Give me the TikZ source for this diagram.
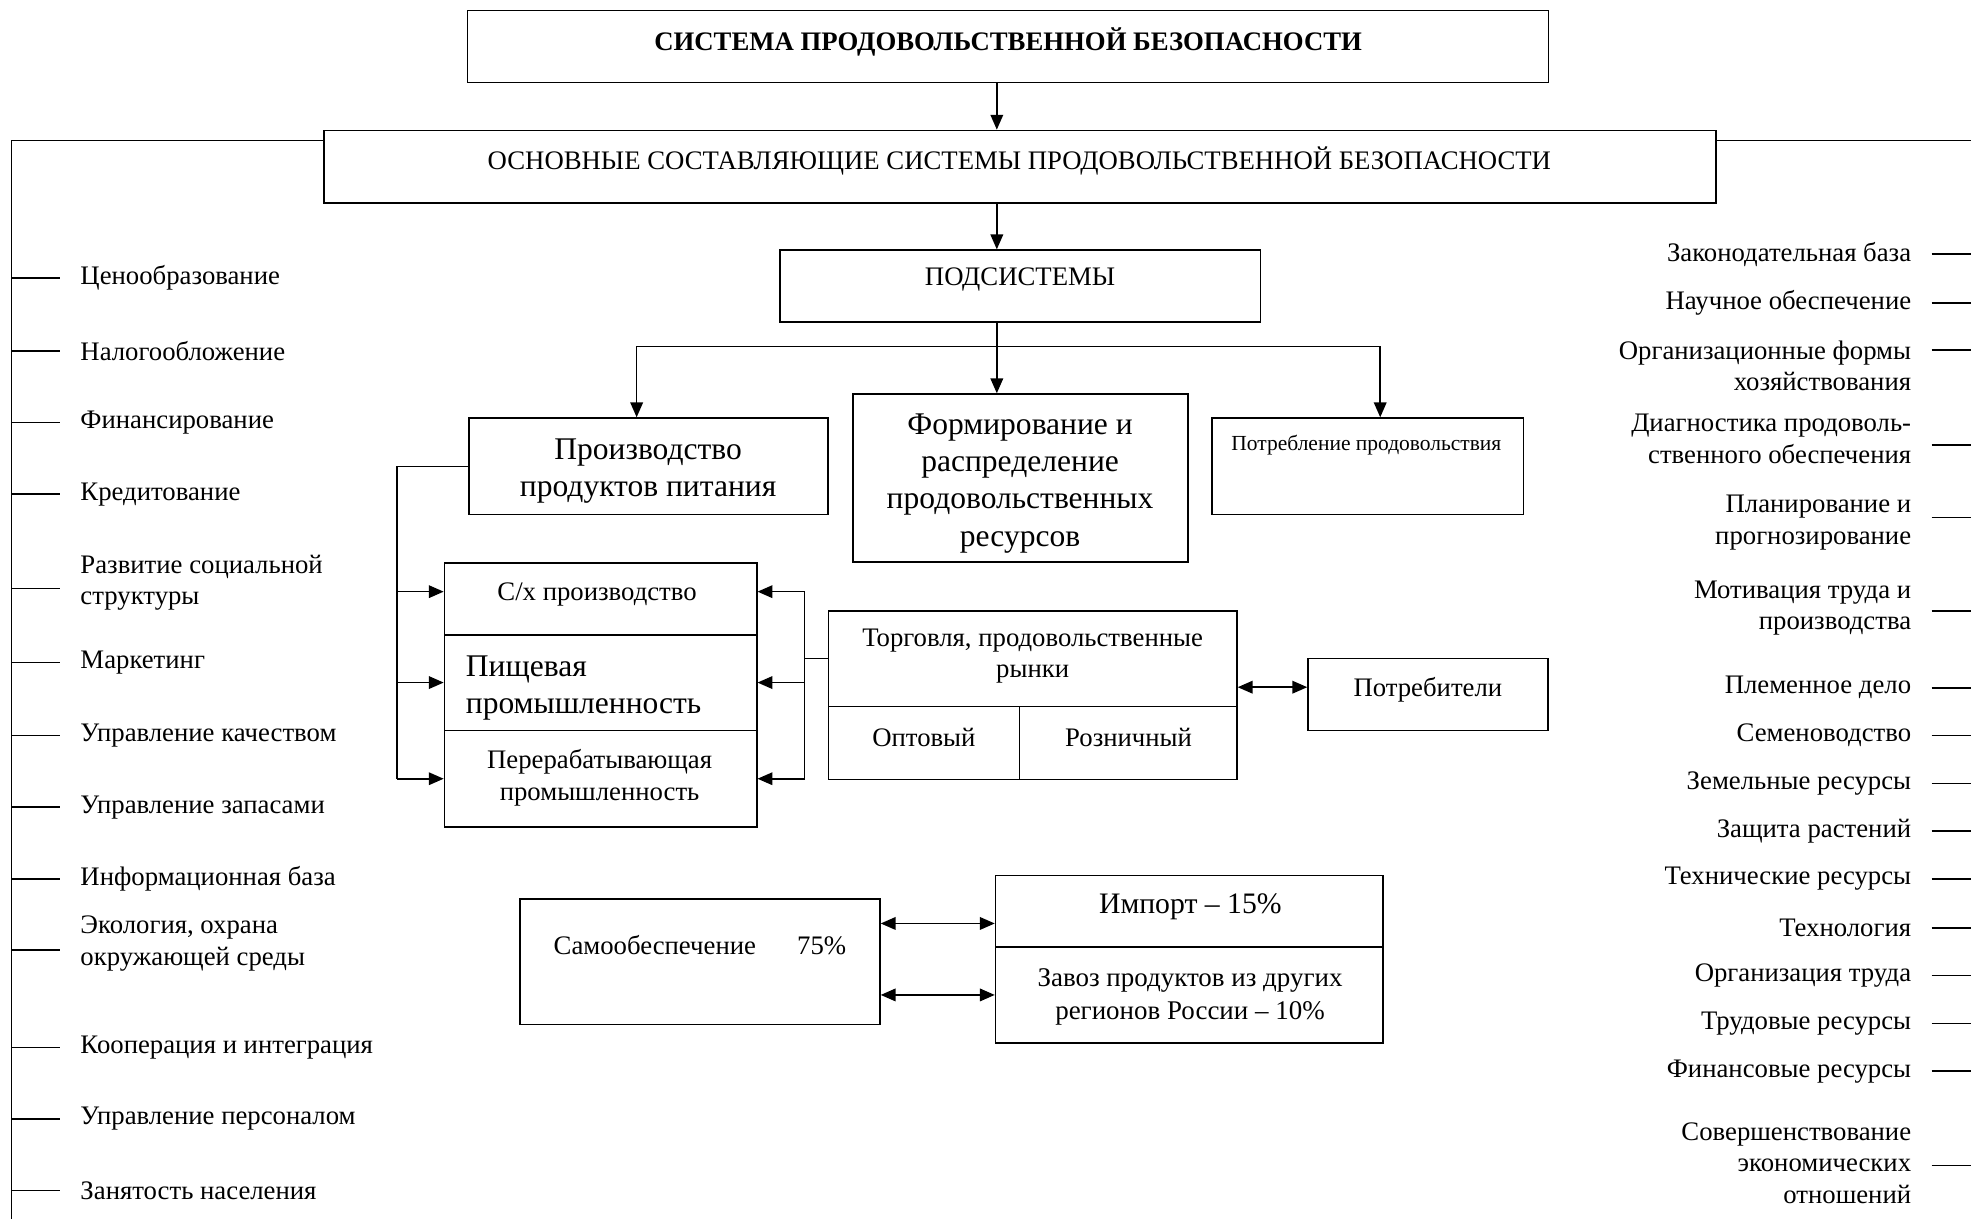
\documentclass[tikz,border=0pt]{standalone}
\usepackage{fontspec}
\setmainfont{Liberation Serif}
\usetikzlibrary{arrows.meta,fit}
\tikzset{
  box/.style={draw,inner sep=0pt},
  txt/.style={yshift=-1.2pt},
  arr/.style={-{Triangle[length=6.5pt,width=5.5pt]}},
  darr/.style={{Triangle[length=6.5pt,width=5.5pt]}-{Triangle[length=6.5pt,width=5.5pt]}},
  big/.style={txt,font=\fontsize{13.8}{16.2}\selectfont},
  litem/.style={txt,inner sep=0pt,anchor=west,align=left},
  ritem/.style={txt,inner sep=0pt,anchor=east,align=right},
  ltick/.style={shorten >=8.5pt},
  rtick/.style={shorten <=8.6pt}
}
\begin{document}
\begin{tikzpicture}[x=0.55pt,y=-0.55pt,line width=0.7pt,font=\fontsize{11.7}{13.75}\selectfont]
\useasboundingbox (0,0) rectangle (1568,970);
\node[box,fit={(372,8.5) (1232,65.5)}] (sys) {};
\node[box,fit={(257.7,103.8) (1365.3,161.3)}] (comp) {};
\node[box,fit={(620.5,199) (1002.6,256)}] (sub) {};
\node[box,fit={(372.9,332.6) (658.6,409.4)}] (prod) {};
\node[box,fit={(678.4,313.5) (945,447)}] (form) {};
\node[box,fit={(964,332.6) (1212,409.4)}] (cons) {};
\node[box,fit={(353.6,448) (602,505)}] (agri) {};
\node[box,fit={(353.6,505) (602,581)}] (food) {};
\node[box,fit={(353.6,581) (602,658)}] (proc) {};
\node[box,fit={(659,486) (984,562)}] (trade) {};
\node[box,fit={(659,562) (811,620)}] (whole) {};
\node[box,fit={(811,562) (984,620)}] (retail) {};
\node[box,fit={(1040.6,524) (1231.5,581)}] (buyers) {};
\node[box,fit={(413.6,715) (700,815)}] (self) {};
\node[box,fit={(792,696.5) (1100,753.5)}] (imp) {};
\node[box,fit={(792,753.5) (1100,829.5)}] (inflow) {};
\node[txt] (sys-t) at (802,31) {\textbf{СИСТЕМА ПРОДОВОЛЬСТВЕННОЙ БЕЗОПАСНОСТИ}};
\node[txt] (comp-t) at (811,125.7) {ОСНОВНЫЕ СОСТАВЛЯЮЩИЕ СИСТЕМЫ ПРОДОВОЛЬСТВЕННОЙ БЕЗОПАСНОСТИ};
\node[txt] (sub-t) at (811.5,220) {ПОДСИСТЕМЫ};
\node[big,align=center] (prod-t) at (515.6,372.7) {Производство\\продуктов питания};
\node[big,align=center] (form-t) at (811.5,382.5) {Формирование и\\распределение\\продовольственных\\ресурсов};
\node[txt,font=\fontsize{9.4}{11}\selectfont] (cons-t) at (1087,352.2) {Потребление продовольствия};
\node[txt] (agri-t) at (475,470.7) {С/х производство};
\node[big,align=left,anchor=west,inner sep=0pt] (food-t) at (370,545) {Пищевая\\промышленность};
\node[txt,align=center] (proc-t) at (477,616.5) {Перерабатывающая\\промышленность};
\node[txt,align=center] (trade-t) at (821.5,519.8) {Торговля, продовольственные\\рынки};
\node[txt] (whole-t) at (735,584.3) {Оптовый};
\node[txt] (retail-t) at (897.8,584.3) {Розничный};
\node[txt] (buyers-t) at (1135.9,546.6) {Потребители};
\node[txt] (self-t) at (556.8,749.5) {Самообеспечение\hspace{18pt}75\%};
\node[txt,font=\fontsize{13}{15}\selectfont] (imp-t) at (947,719.2) {Импорт – 15\%};
\node[txt,align=center,font=\fontsize{11.8}{14.7}\selectfont] (inflow-t) at (946.7,791) {Завоз продуктов из других\\регионов России – 10\%};
\coordinate (axis) at (793,0);
\coordinate (split) at (793,275.8);
\coordinate (lspine) at (9.1,970);
\coordinate (rspine) at (1568,0);
\coordinate (lb) at (316,371);
\coordinate (rb) at (640,524);
\draw[arr] (sys.south -| axis) -- (comp.north -| axis);
\draw[arr] (comp.south -| axis) -- (sub.north -| axis);
\draw (sub.south -| axis) -- (split);
\draw[arr] (split) -- (form.north -| split);
\draw[arr] (split) -| ([xshift=-5.1pt]prod.north);
\draw[arr] (split) -| ([xshift=5.5pt]cons.north);
\draw ([yshift=11.5pt]comp.west) -| (lspine);
\draw ([yshift=11.5pt]comp.east) -- ([yshift=11.5pt]comp.east -| rspine);
\draw (prod.west) -- (lb) -- (lb |- proc.west);
\draw[arr] ([yshift=3.2pt]agri.west -| lb) -- ([yshift=3.2pt]agri.west);
\draw[arr] (food.west -| lb) -- (food.west);
\draw[arr] (proc.west -| lb) -- (proc.west);
\draw (trade.west) -- (rb);
\draw ([yshift=3.2pt]agri.east -| rb) -- (proc.east -| rb);
\draw[arr] ([yshift=3.2pt]agri.east -| rb) -- ([yshift=3.2pt]agri.east);
\draw[arr] (food.east -| rb) -- (food.east);
\draw[arr] (proc.east -| rb) -- (proc.east);
\draw[darr] ([yshift=3.2pt]buyers.west -| trade.east) -- ([yshift=3.2pt]buyers.west);
\draw[darr] ([yshift=-5.3pt]imp.west -| self.east) -- ([yshift=-5.3pt]imp.west);
\draw[darr] (inflow.west -| self.east) -- (inflow.west);
\node[litem] (l1) at (63.4,219) {Ценообразование};
\node[litem] (l2) at (63.4,277) {Налогообложение};
\node[litem] (l3) at (63.4,334) {Финансирование};
\node[litem] (l4) at (63.4,391) {Кредитование};
\node[litem] (l5) at (63.4,461.5) {Развитие социальной\\структуры};
\node[litem] (l6) at (63.4,525) {Маркетинг};
\node[litem] (l7) at (63.4,583) {Управление качеством};
\node[litem] (l8) at (63.4,640) {Управление запасами};
\node[litem] (l9) at (63.4,697) {Информационная база};
\node[litem] (l10) at (63.4,748.5) {Экология, охрана\\окружающей среды};
\node[litem] (l11) at (63.4,831) {Кооперация и интеграция};
\node[litem] (l12) at (63.4,888) {Управление персоналом};
\node[litem] (l13) at (63.4,945) {Занятость населения};
\node[ritem] (r1) at (1521,200) {Законодательная база};
\node[ritem] (r2) at (1521,239) {Научное обеспечение};
\node[ritem] (r3) at (1521,289) {Организационные формы\\хозяйствования};
\node[ritem] (r4) at (1521,347) {Диагностика продоволь-\\ственного обеспечения};
\node[ritem] (r5) at (1521,413.5) {Планирование и\\прогнозирование};
\node[ritem] (r6) at (1521,481.5) {Мотивация труда и\\производства};
\node[ritem] (r7) at (1521,545) {Племенное дело};
\node[ritem] (r8) at (1521,583) {Семеноводство};
\node[ritem] (r9) at (1521,621) {Земельные ресурсы};
\node[ritem] (r10) at (1521,659) {Защита растений};
\node[ritem] (r11) at (1521,697) {Технические ресурсы};
\node[ritem] (r12) at (1521,736) {Технология};
\node[ritem] (r13) at (1521,774) {Организация труда};
\node[ritem] (r14) at (1521,812) {Трудовые ресурсы};
\node[ritem] (r15) at (1521,850) {Финансовые ресурсы};
\node[ritem] (r16) at (1521,923) {Совершенствование\\экономических\\отношений};
\foreach \n/\s in {l1/0,l2/0,l3/0,l4/0,l5/-2.5,l6/0,l7/0,l8/0,l9/0,l10/-2.8,l11/0,l12/0,l13/0}
  \draw[ltick] ([yshift=\s pt]\n.west -| lspine) -- ([yshift=\s pt]\n.west);
\foreach \n/\s in {r1/0,r2/0,r3/7,r4/-2.75,r5/2.25,r6/-1.4,r7/0,r8/0,r9/0,r10/0,r11/0,r12/0,r13/0,r14/0,r15/0,r16/-1.1}
  \draw[rtick] ([yshift=\s pt]\n.east) -- ([yshift=\s pt]\n.east -| rspine);
\end{tikzpicture}
\end{document}
